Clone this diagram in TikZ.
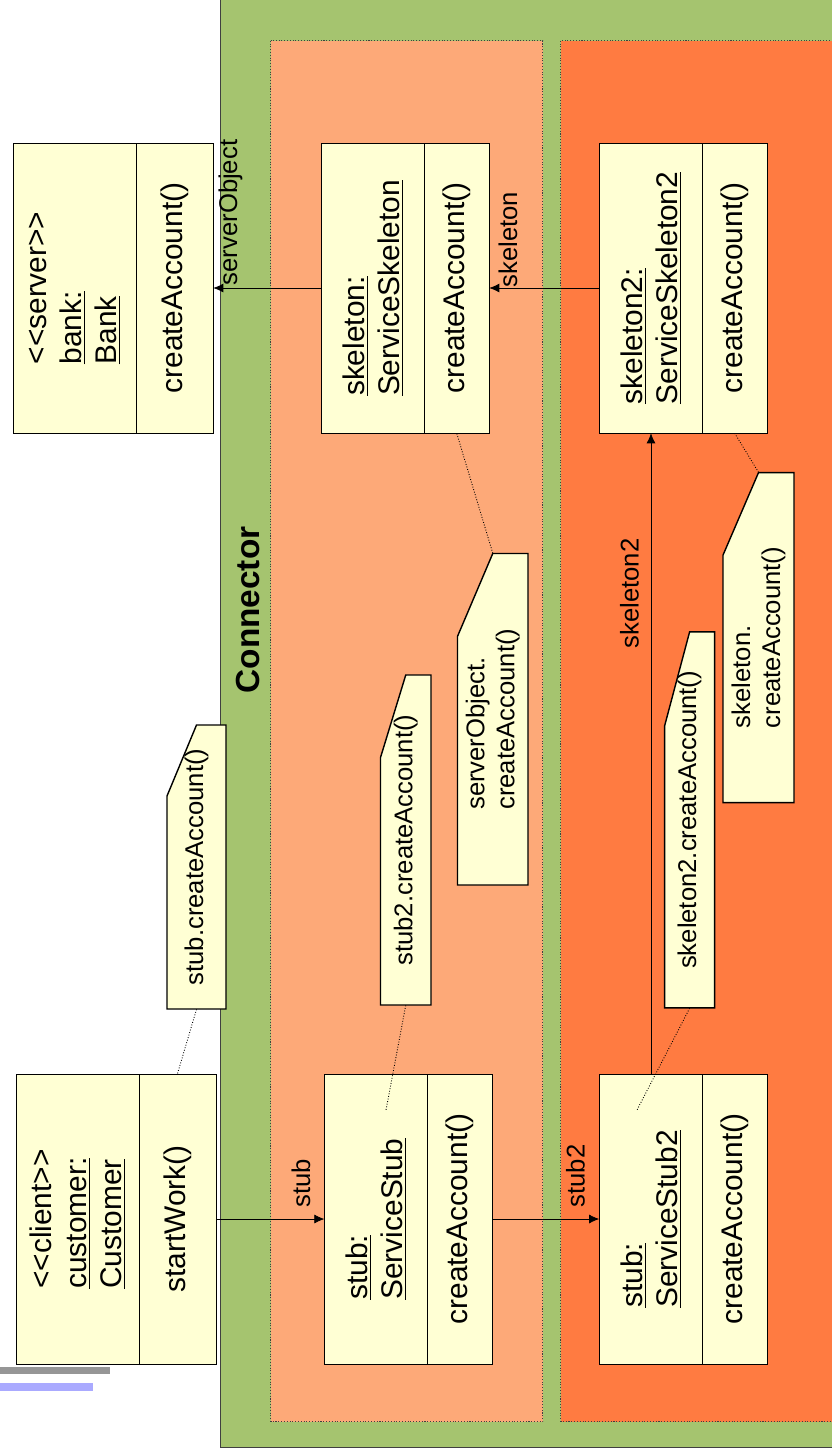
\documentclass[tikz,border=0pt]{standalone}
\usepackage{fontspec}
\setmainfont{Liberation Sans}[Ligatures=TeXOff]
\usepackage{tikz}
\usetikzlibrary{shapes,arrows.meta,calc,positioning}
\definecolor{conngreen}{HTML}{A5C46F}
\definecolor{stubside}{HTML}{FDA978}
\definecolor{skelside}{HTML}{FF7B41}
\definecolor{umlyellow}{HTML}{FFFFD4}
\definecolor{bargray}{HTML}{969696}
\definecolor{barblue}{HTML}{AAAAFF}
\tikzset{
    -{Latex[length=2mm,width=1.8mm]},line width=0.8pt,
    obj/.style ={rectangle, draw, fill=umlyellow, rotate=90, inner sep=0pt,
        minimum width=5.8cm, align=left, font=\fontsize{17}{20}\selectfont},
    notebox/.style = {draw, fill=umlyellow, line width=0.8pt},
    notetext/.style = {rotate=90, inner sep=0pt, align=left,
        font=\fontsize{14.6}{17}\selectfont},
    lbl/.style = {rotate=90, inner sep=0pt, font=\fontsize{14.6}{17}\selectfont},
    region/.style = {draw=black!75, densely dotted, line width=0.6pt},
    pin/.style = {-, densely dotted, line width=0.5pt}
}
% note with cut corner: name, centre x, centre y, width, height, text
\newcommand{\umlnote}[6]{%
    \draw[notebox] (#2-#4/2,#3+#5/2) -- (#2-#4/2,#3-#5/4) -- (#2,#3-#5/2)
        -- (#2+#4/2,#3-#5/2) -- (#2+#4/2,#3+#5/2) -- cycle;
    \node[notetext, minimum width=#5*0.02cm, minimum height=#4*0.02cm] (#1) at (#2,#3) {#6};
}

\begin{document}
\begin{tikzpicture}[x=0.02cm, y=-0.02cm]
    \useasboundingbox (0,0) rectangle (832,1455);
    \clip (0,0) rectangle (832,1455);

    % connector background
    \fill[conngreen] (220,-5) rectangle (840,1447);
    \draw[-, black!75] (220,-5) -- (220,1447) -- (840,1447);
    \draw[region, fill=stubside] (270.6,40.7) rectangle (542.8,1421.7);
    \draw[region, fill=skelside] (560.8,40.7) rectangle (845,1421.7);
    \node[rotate=90, font=\bfseries\fontsize{19}{22}\selectfont] (conn) at (248.5,610) {Connector};

    \fill[bargray] (0,1366.7) rectangle (110,1374.3);
    \fill[barblue] (0,1382.7) rectangle (92.7,1390.7);

    % server side
    \node[obj, minimum height=2.46cm] (bankname) at (74.5,288) {<<server>>\\\underline{bank:}\\\underline{Bank}};
    \node[obj, minimum height=1.54cm] (bankops) at (174.5,288) {createAccount()};
    \node[obj, minimum height=2.06cm] (skelname) at (373,288) {\underline{skeleton:}\\\underline{ServiceSkeleton}};
    \node[obj, minimum height=1.29cm] (skelops) at (456.75,288) {createAccount()};
    \node[obj, minimum height=2.06cm] (skeltwoname) at (651,288) {\underline{skeleton2:}\\\underline{ServiceSkeleton2}};
    \node[obj, minimum height=1.29cm] (skeltwoops) at (734.75,288) {createAccount()};

    % client side
    \node[obj, minimum height=2.46cm] (custname) at (77.5,1219) {<<client>>\\\underline{customer:}\\\underline{Customer}};
    \node[obj, minimum height=1.54cm] (custops) at (177.5,1219) {startWork()};
    \node[obj, minimum height=2.06cm] (stubname) at (376.2,1219) {\underline{stub:}\\\underline{ServiceStub}};
    \node[obj, minimum height=1.29cm] (stubops) at (459.85,1219) {createAccount()};
    \node[obj, minimum height=2.06cm] (stubtwoname) at (651,1219) {\underline{stub:}\\\underline{ServiceStub2}};
    \node[obj, minimum height=1.29cm] (stubtwoops) at (734.75,1219) {createAccount()};

    % notes
    \umlnote{stubnote}{196.5}{867}{59}{284}{stub.createAccount()}
    \umlnote{stubtwonote}{405.75}{840}{50.5}{330}{stub2.createAccount()}
    \umlnote{servernote}{492.75}{719.25}{70.5}{331.5}{serverObject.\\createAccount()}
    \umlnote{skeltwonote}{689.6}{819.9}{50}{376}{skeleton2.createAccount()}
    \umlnote{skelnote}{758.5}{637.6}{71}{330}{skeleton.\\createAccount()}

    \coordinate (stubpin) at (386,1110);
    \coordinate (stubtwopin) at (637,1110);

    % calls
    \draw (custops.south) -- (stubname.north);
    \draw (stubops.south) -- (stubtwoname.north);
    \draw (stubtwoname.east) -- (skeltwoname.west);
    \draw (skeltwoname.north) -- (skelops.south);
    \draw (skelname.north) -- (bankops.south);

    \node[lbl] (stublbl) at (301,1183.5) {stub};
    \node[lbl] (stubtwolbl) at (575.5,1176) {stub2};
    \node[lbl] (skeltwolbl) at (629.5,593.5) {skeleton2};
    \node[lbl] (skellbl) at (508,239.5) {skeleton};
    \node[lbl] (serverlbl) at (230.5,212.5) {serverObject};

    % note anchors
    \draw[pin] (stubnote.west) -- (custops.east);
    \draw[pin] (stubtwonote.west) -- (stubpin);
    \draw[pin] (servernote.east) -- (skelops.west);
    \draw[pin] (skelnote.east) -- (skeltwoops.west);
    \draw[pin] (skeltwonote.west) -- (stubtwopin);
\end{tikzpicture}
\end{document}
